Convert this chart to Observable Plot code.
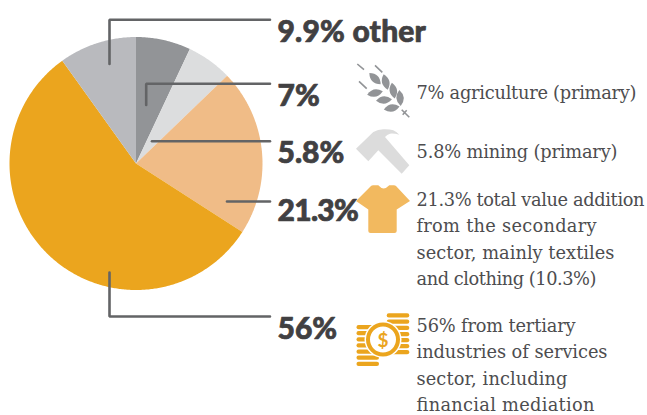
<!DOCTYPE html>
<html>
<head>
<meta charset="utf-8">
<script src="https://cdn.jsdelivr.net/npm/d3@7"></script>
<script src="https://cdn.jsdelivr.net/npm/@observablehq/plot@0.6"></script>
<style>html,body{margin:0;padding:0;background:#fff}svg{display:block}</style>
</head>
<body>
<div id="chart"></div>
<script>
// Data
const sectors = ["agriculture", "mining", "secondary", "tertiary", "other"];
const shares = [7, 5.8, 21.3, 56, 9.9];
const colors = ["#929497", "#dcddde", "#f0bc87", "#eba51e", "#b9babe"];
const bigLabels = ["9.9% other", "7%", "5.8%", "21.3%", "56%"];
const descriptions = [
  ["7% agriculture (primary)"],
  ["5.8% mining (primary)"],
  ["21.3% total value addition", "from the secondary", "sector, mainly textiles", "and clothing (10.3%)"],
  ["56% from tertiary", "industries of services", "sector, including", "financial mediation"]
];

// Layout (pixels)
const W = 647, H = 415, cx = 135.5, cy = 163, R = 126.5;
const total = d3.sum(shares);
const slices = [];
let acc = 0;
sectors.forEach((name, i) => {
  const a0 = acc / total * 2 * Math.PI;
  acc += shares[i];
  const a1 = acc / total * 2 * Math.PI;
  const n = Math.max(2, Math.ceil((a1 - a0) / 0.01));
  slices.push({name, x: cx, y: cy});
  for (let k = 0; k <= n; k++) {
    const a = a0 + (a1 - a0) * k / n;
    slices.push({name, x: cx + R * Math.sin(a), y: cy - R * Math.cos(a)});
  }
});

const leaders = [
  [[269.5,19.3],[109,19.3],[109,63.5]],
  [[269.5,83.3],[145.7,83.3],[145.7,104.5]],
  [[269.5,140.8],[151.5,140.8]],
  [[269.5,201],[226.5,201]],
  [[269.5,316],[109,316],[109,272]]
].flatMap((pts, i) => pts.map(([x, y]) => ({i, x, y})));

const bigPos = [[277,41],[277,105],[277,162],[277,220],[277,338]];
const bigRows = bigLabels.map((t, i) => ({t, x: bigPos[i][0], y: bigPos[i][1]}));
const descY = [98, 157, 205, 331];
const descRows = descriptions.flatMap((lines, i) =>
  lines.map((t, k) => ({t, x: 416, y: descY[i] + k * 26.6})));
const descWidths = [220, 201, 228, 180, 198, 180, 159, 191, 151, 178];

function icons() {
  const g = d3.create("svg:g");
  // wheat
  const wheat = g.append("g").attr("fill", "#929497");
  [[375,78.7,45],[385.7,82,75],[393.3,90.7,80],[400,98,85],[375,93,-12],[384,100,-5],[391.7,108,-10]]
    .forEach(([x, y, r]) => wheat.append("path").attr("d", "M-8 0Q0 -7.5 8 0Q0 7.5 -8 0Z")
      .attr("transform", `translate(${x} ${y}) rotate(${r})`));
  g.append("path").attr("fill", "none").attr("stroke", "#929497").attr("stroke-width", 1.6)
    .attr("d", "M357.3 64L364 69.7M375 65.3L382.3 72.3M359 81.3L366.7 88.7M401.7 109.7L409.3 117.3M402.7 114.7L406.7 110.3");
  // hammer
  g.append("path").attr("fill", "#dcdcdc")
    .attr("d", "M356 148.7L373.3 132Q378 129.5 383.3 129.3Q389 129 393.3 130.3Q397 132 399.3 134.7Q394 133.3 390 133.7Q387 134.5 385 137L409.3 165.3L401.7 173.7L378.3 150.3L368.3 161.3Z");
  // shirt
  g.append("path").attr("fill", "#f2b95f")
    .attr("d", "M356 201L371 186Q372 185 374 185.3L378.3 185.3Q383.5 191.5 389.3 185.3L393 185.3Q395 185 396 186L410 201L396.7 209.5L396.7 231Q396.7 233 394.5 233L370.5 233Q368.3 233 368.3 231L368.3 209.5Z");
  // coins
  const pill = (x, y, w) => g.append("rect").attr("x", x).attr("y", y).attr("width", w).attr("height", 4.3).attr("rx", 2.1).attr("fill", "#eba51e");
  [313.3,319.5,325.7,332,338,344,350].forEach(y => pill(386.7, y, 22.6));
  [325,331,337.3,343.3,349.5,355.5,361.7].forEach(y => pill(356.5, y, 22.5));
  g.append("circle").attr("cx", 383).attr("cy", 339.5).attr("r", 18.5).attr("fill", "#fff");
  g.append("circle").attr("cx", 383).attr("cy", 339.5).attr("r", 15).attr("fill", "#fff").attr("stroke", "#eba51e").attr("stroke-width", 4);
  g.append("text").attr("x", 383).attr("y", 346.5).attr("text-anchor", "middle").attr("font-family", "Lato").attr("font-weight", 700).attr("font-size", 19).attr("fill", "#eba51e").text("$");
  return g.node();
}

const plot = Plot.plot({
  width: W, height: H, margin: 0,
  x: {domain: [0, W], range: [0, W], axis: null},
  y: {domain: [0, H], range: [0, H], axis: null},
  color: {domain: sectors, range: colors},
  style: {background: "#fff"},
  marks: [
    Plot.line(slices, {x: "x", y: "y", z: "name", fill: "name", stroke: null, curve: "linear-closed"}),
    Plot.line(leaders, {x: "x", y: "y", z: "i", stroke: "#636466", strokeWidth: 2.6, strokeLinejoin: "miter"}),
    Plot.text(bigRows, {x: "x", y: "y", text: "t", textAnchor: "start", lineAnchor: "bottom", fontFamily: "Lato", fontWeight: 900, fontSize: 30, fill: "#414042", stroke: "#414042", strokeWidth: 0.7}),
    Plot.text(descRows, {x: "x", y: "y", text: "t", textAnchor: "start", lineAnchor: "bottom", fontFamily: "DejaVu Serif", fontSize: 17.8, fill: "#4d4d4f"}),
    icons
  ]
});
d3.select(plot).selectAll("text").filter(function () { return this.textContent === "21.3%"; }).style("letter-spacing", "-0.7px");
d3.select(plot).selectAll("text").filter(function () { return this.textContent === "9.9% other"; }).style("letter-spacing", "0.2px");
const flatDesc = descriptions.flat();
d3.select(plot).selectAll("text").each(function () {
  const k = flatDesc.indexOf(this.textContent);
  if (k >= 0) d3.select(this).attr("textLength", descWidths[k]).attr("lengthAdjust", "spacing");
});
document.getElementById("chart").append(plot);
</script>
</body>
</html>
